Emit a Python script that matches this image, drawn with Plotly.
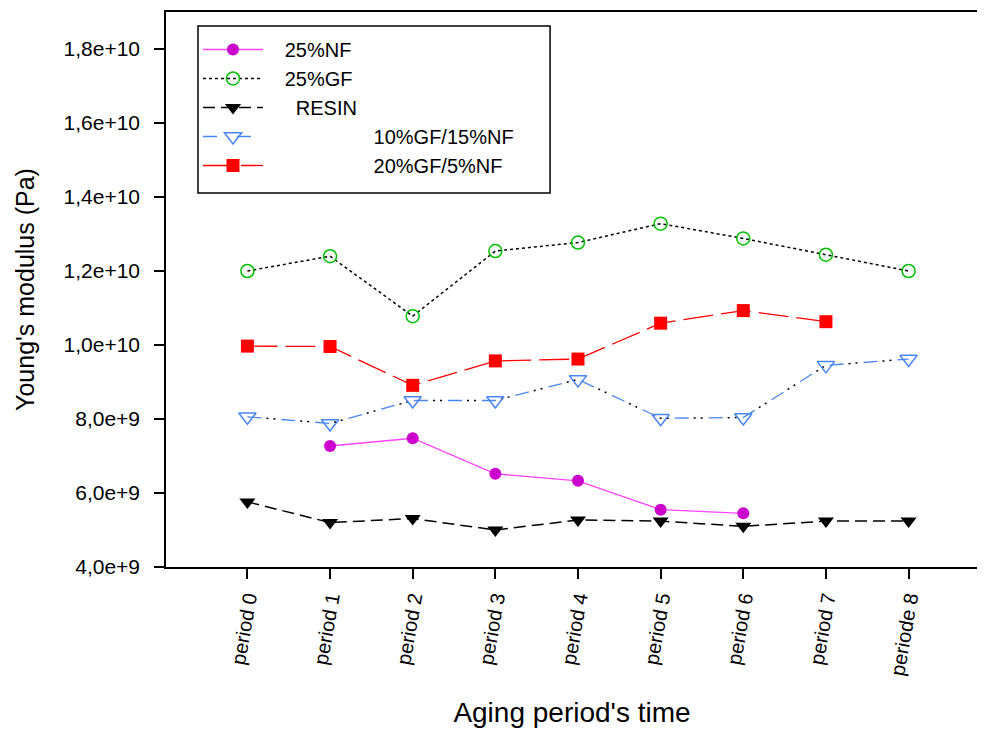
import plotly.graph_objects as go

periods = [0, 1, 2, 3, 4, 5, 6, 7, 8]
period_labels = ["period 0", "period 1", "period 2", "period 3", "period 4",
                 "period 5", "period 6", "period 7", "periode 8"]

nf25_x = [1, 2, 3, 4, 5, 6]
nf25 = [7.27e9, 7.48e9, 6.52e9, 6.33e9, 5.55e9, 5.45e9]

gf25_x = [0, 1, 2, 3, 4, 5, 6, 7, 8]
gf25 = [1.200e10, 1.240e10, 1.078e10, 1.254e10, 1.277e10, 1.328e10, 1.288e10, 1.244e10, 1.200e10]

resin_x = [0, 1, 2, 3, 4, 5, 6, 7, 8]
resin = [5.76e9, 5.20e9, 5.31e9, 5.00e9, 5.27e9, 5.24e9, 5.10e9, 5.24e9, 5.24e9]

gf10nf15_x = [0, 1, 2, 3, 4, 5, 6, 7, 8]
gf10nf15 = [8.06e9, 7.88e9, 8.50e9, 8.50e9, 9.07e9, 8.02e9, 8.04e9, 9.45e9, 9.62e9]

gf20nf5_x = [0, 1, 2, 3, 4, 5, 6, 7]
gf20nf5 = [9.97e9, 9.96e9, 8.91e9, 9.57e9, 9.62e9, 1.059e10, 1.093e10, 1.063e10]

y_ticks = [4e9, 6e9, 8e9, 1.0e10, 1.2e10, 1.4e10, 1.6e10, 1.8e10]
y_tick_labels = ["4,0e+9", "6,0e+9", "8,0e+9", "1,0e+10", "1,2e+10", "1,4e+10", "1,6e+10", "1,8e+10"]

NB = "\u00a0"
fig = go.Figure()

fig.add_trace(go.Scatter(
    x=nf25_x, y=nf25, name=NB * 3 + "25%NF", mode="lines+markers",
    line=dict(color="#ff44ff", width=1.3),
    marker=dict(symbol="circle", size=12, color="#cc00cc", line=dict(color="#cc00cc", width=0))))
fig.add_trace(go.Scatter(
    x=gf25_x, y=gf25, name=NB * 3 + "25%GF", mode="lines+markers",
    line=dict(color="black", width=1.5, dash="dot"),
    marker=dict(symbol="circle-open", size=13, color="#00c000", line=dict(color="#00c000", width=1.5))))
fig.add_trace(go.Scatter(
    x=resin_x, y=resin, name=NB * 5 + "RESIN", mode="lines+markers",
    line=dict(color="black", width=1.5, dash="12px,6px"),
    marker=dict(symbol="triangle-down", size=14, color="black")))
# black dots of the blue dash-dot-dot line
fig.add_trace(go.Scatter(
    x=gf10nf15_x, y=gf10nf15, mode="lines", showlegend=False, hoverinfo="skip",
    line=dict(color="black", width=1.5, dash="0px,19px,2px,5px,2px,6px")))
fig.add_trace(go.Scatter(
    x=gf10nf15_x, y=gf10nf15, name=NB * 19 + "10%GF/15%NF" + NB * 4, mode="lines+markers",
    line=dict(color="#4a86f0", width=1.3, dash="14px,20px"),
    marker=dict(symbol="triangle-down-open", size=15, color="#4a86f0", line=dict(color="#4a86f0", width=1.5))))
fig.add_trace(go.Scatter(
    x=gf20nf5_x, y=gf20nf5, name=NB * 19 + "20%GF/5%NF", mode="lines+markers",
    line=dict(color="#ff0000", width=1.3, dash="30px,8px"),
    marker=dict(symbol="square", size=13, color="#ff0000")))

fig.add_shape(type="rect", xref="paper", yref="paper",
              x0=0.0394, x1=0.473, y0=0.674, y1=0.975,
              line=dict(color="black", width=1.5), fillcolor="rgba(0,0,0,0)", layer="above")

fig.update_layout(
    width=985, height=729,
    margin=dict(l=158, r=15, t=4, b=170, autoexpand=False),
    plot_bgcolor="white", paper_bgcolor="white",
    font=dict(family="Liberation Sans, Arial, sans-serif", size=20, color="black"),
    showlegend=True,
    legend=dict(x=0.0394, y=0.9676, xanchor="left", yanchor="top",
                borderwidth=0, bgcolor="rgba(0,0,0,0)",
                font=dict(size=20), itemwidth=60, tracegroupgap=0),
    xaxis=dict(
        range=[-0.985, 8.84], tickvals=periods, ticktext=period_labels,
        tickangle=-80, ticks="outside", ticklen=10, tickcolor="black", tickwidth=1.5,
        showline=True, mirror=True, linecolor="black", linewidth=1.5, showgrid=False, zeroline=False,
        tickfont=dict(size=20),
        title=dict(text="Aging period's time", font=dict(size=28), standoff=26)),
    yaxis=dict(
        range=[4e9, 1.9e10], tickvals=y_ticks, ticktext=y_tick_labels,
        ticks="outside", ticklen=10, tickcolor="black", tickwidth=1.5,
        showline=True, linecolor="black", linewidth=1.5, showgrid=False, zeroline=False,
        tickfont=dict(size=21), ticklabelstandoff=10,
        title=dict(text="Young's modulus (Pa)", font=dict(size=25), standoff=22)),
)

fig.write_html("out.html")
